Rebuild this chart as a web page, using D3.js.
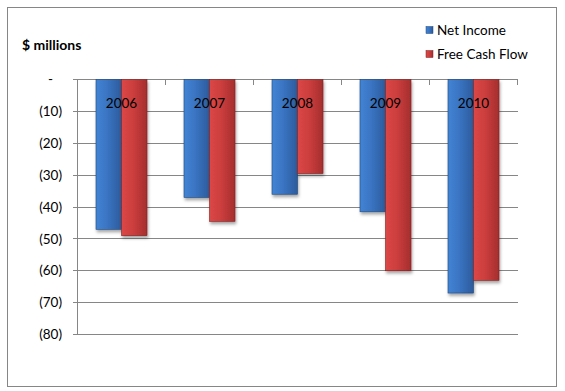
<!DOCTYPE html>
<meta charset="utf-8">
<head>
    <title>Net Income vs Free Cash Flow</title>
    <script src="https://d3js.org/d3.v7.min.js"></script>
</head>
<style>
    body {
        margin: 0;
        background-color: #fff;
        font-family: Lato, "Open Sans", sans-serif;
    }
    .grid line {
        stroke: #868686;
        stroke-width: 1px;
        shape-rendering: crispEdges;
    }
    .tick-label {
        font-size: 13.5px;
        fill: #000;
    }
</style>
<body>
<svg width="565" height="391"></svg>
<script>
    // chart data
    var years = ["2006", "2007", "2008", "2009", "2010"];
    var series = ["Net Income", "Free Cash Flow"];
    var netIncome = [-47, -37, -36, -41.5, -67];
    var freeCashFlow = [-49, -44.5, -29.5, -60, -63];
    var yTicks = [0, -10, -20, -30, -40, -50, -60, -70, -80];

    var svg = d3.select("svg");
    var plotLeft = 77.5, plotRight = 517.5, plotTop = 79.5, plotBottom = 334.5;

    var x = d3.scaleBand().domain(years).range([plotLeft, plotRight]).padding(0);
    var xs = d3.scaleBand().domain(series).range([0, x.bandwidth()]).paddingInner(0).paddingOuter(0.725);
    var y = d3.scaleLinear().domain([0, -80]).range([plotTop, plotBottom]);

    var defs = svg.append("defs");
    function grad(id, c1, c2, c3) {
        var g = defs.append("linearGradient").attr("id", id).attr("x1", "0").attr("x2", "1").attr("y1", "0").attr("y2", "0");
        g.append("stop").attr("offset", "0").attr("stop-color", c1);
        g.append("stop").attr("offset", "0.45").attr("stop-color", c2);
        g.append("stop").attr("offset", "1").attr("stop-color", c3);
    }
    grad("gBlue", "#4284d4", "#3a74c2", "#2c5b9c");
    grad("gRed", "#dc4747", "#cc3e3d", "#a52e2e");
    var f = defs.append("filter").attr("id", "shadow").attr("x", "-20%").attr("y", "-5%").attr("width", "150%").attr("height", "120%");
    f.append("feDropShadow").attr("dx", 1).attr("dy", 2.5).attr("stdDeviation", 1.5).attr("flood-color", "#000").attr("flood-opacity", 0.35);

    // frame
    svg.append("rect").attr("x", 7.5).attr("y", 7.5).attr("width", 549).attr("height", 379)
        .attr("fill", "#fff").attr("stroke", "#868686");

    // gridlines + y ticks
    var grid = svg.append("g").attr("class", "grid");
    grid.selectAll("line.h").data(yTicks).enter().append("line")
        .attr("x1", plotLeft - 5).attr("x2", plotRight)
        .attr("y1", function(d) { return y(d); })
        .attr("y2", function(d) { return y(d); });
    grid.append("line").attr("x1", plotLeft).attr("x2", plotLeft).attr("y1", plotTop).attr("y2", plotBottom);
    grid.selectAll("line.c").data(years).enter().append("line")
        .attr("x1", function(d) { return x(d) + x.step(); })
        .attr("x2", function(d) { return x(d) + x.step(); })
        .attr("y1", plotTop).attr("y2", plotTop + 5);

    svg.selectAll(".ylab").data(yTicks).enter().append("text")
        .attr("class", "tick-label ylab")
        .attr("x", function(d) { return d === 0 ? 53 : 62; })
        .attr("y", function(d) { return y(d); })
        .attr("dy", "0.35em")
        .attr("text-anchor", "end")
        .text(function(d) { return d === 0 ? "-" : "(" + (-d) + ")"; });

    svg.append("text").attr("x", 22).attr("y", 45).attr("dy", "0.35em")
        .style("font-size", "14px").style("font-weight", "bold").text("$ millions");

    // bars
    var data = years.map(function(yr, i) {
        return {year: yr, values: [
            {key: series[0], v: netIncome[i], fill: "url(#gBlue)", edge: "#1f4778"},
            {key: series[1], v: freeCashFlow[i], fill: "url(#gRed)", edge: "#7d2222"}
        ]};
    });

    var groups = svg.selectAll(".year").data(data).enter().append("g")
        .attr("class", "year")
        .attr("transform", function(d) { return "translate(" + x(d.year) + ",0)"; });

    groups.selectAll("rect").data(function(d) { return d.values; }).enter().append("rect")
        .attr("x", function(d) { return xs(d.key); })
        .attr("y", y(0))
        .attr("width", xs.bandwidth())
        .attr("height", function(d) { return y(d.v) - y(0); })
        .attr("fill", function(d) { return d.fill; })
        .attr("stroke", function(d) { return d.edge; })
        .attr("stroke-width", 0.6)
        .attr("filter", "url(#shadow)");

    groups.append("text")
        .attr("class", "tick-label")
        .attr("x", x.bandwidth() / 2)
        .attr("y", 103)
        .attr("dy", "0.35em")
        .attr("text-anchor", "middle")
        .text(function(d) { return d.year; });

    // legend
    var legend = svg.selectAll(".legend").data([
        {name: series[0], fill: "url(#gBlue)", edge: "#1f4778"},
        {name: series[1], fill: "url(#gRed)", edge: "#7d2222"}
    ]).enter().append("g")
        .attr("class", "legend")
        .attr("transform", function(d, i) { return "translate(426," + (30 + i * 24) + ")"; });
    legend.append("rect").attr("x", 0).attr("y", -3.5).attr("width", 7).attr("height", 7)
        .attr("fill", function(d) { return d.fill; }).attr("stroke", function(d) { return d.edge; }).attr("stroke-width", 0.5);
    legend.append("text").attr("class", "tick-label").attr("x", 11).attr("y", 0).attr("dy", "0.35em")
        .text(function(d) { return d.name; });
</script>
</body>
